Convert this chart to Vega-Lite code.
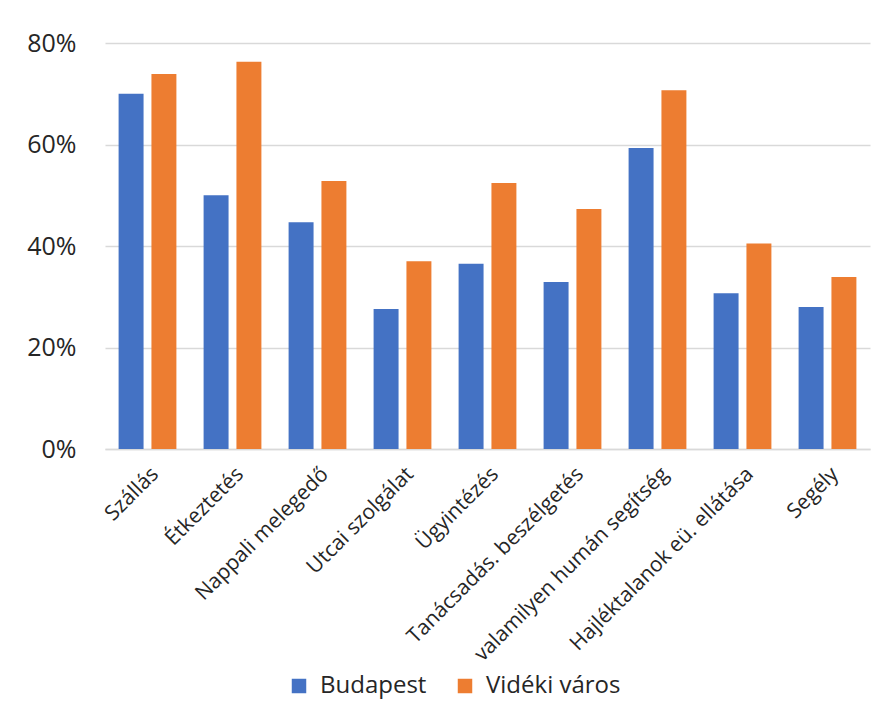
{
  "$schema": "https://vega.github.io/schema/vega-lite/v6.json",
  "autosize": {"type": "none"},
  "padding": {"left": 105, "top": 43, "right": 18, "bottom": 275},
  "width": 765,
  "height": 406,
  "background": "white",
  "config": {
    "font": "Open Sans",
    "view": {"stroke": null},
    "axis": {"labelColor": "#262626", "labelFont": "Open Sans"},
    "legend": {"labelColor": "#262626", "labelFont": "Open Sans"}
  },
  "data": {
    "values": [
      {"kategoria": "Szállás", "csoport": "Budapest", "ertek": 0.70},
      {"kategoria": "Szállás", "csoport": "Vidéki város", "ertek": 0.739},
      {"kategoria": "Étkeztetés", "csoport": "Budapest", "ertek": 0.50},
      {"kategoria": "Étkeztetés", "csoport": "Vidéki város", "ertek": 0.763},
      {"kategoria": "Nappali melegedő", "csoport": "Budapest", "ertek": 0.447},
      {"kategoria": "Nappali melegedő", "csoport": "Vidéki város", "ertek": 0.528},
      {"kategoria": "Utcai szolgálat", "csoport": "Budapest", "ertek": 0.276},
      {"kategoria": "Utcai szolgálat", "csoport": "Vidéki város", "ertek": 0.37},
      {"kategoria": "Ügyintézés", "csoport": "Budapest", "ertek": 0.365},
      {"kategoria": "Ügyintézés", "csoport": "Vidéki város", "ertek": 0.524},
      {"kategoria": "Tanácsadás. beszélgetés", "csoport": "Budapest", "ertek": 0.329},
      {"kategoria": "Tanácsadás. beszélgetés", "csoport": "Vidéki város", "ertek": 0.473},
      {"kategoria": "valamilyen humán segítség", "csoport": "Budapest", "ertek": 0.593},
      {"kategoria": "valamilyen humán segítség", "csoport": "Vidéki város", "ertek": 0.707},
      {"kategoria": "Hajléktalanok eü. ellátása", "csoport": "Budapest", "ertek": 0.307},
      {"kategoria": "Hajléktalanok eü. ellátása", "csoport": "Vidéki város", "ertek": 0.405},
      {"kategoria": "Segély", "csoport": "Budapest", "ertek": 0.28},
      {"kategoria": "Segély", "csoport": "Vidéki város", "ertek": 0.339}
    ]
  },
  "mark": {"type": "bar"},
  "encoding": {
    "x": {
      "field": "kategoria",
      "type": "nominal",
      "sort": null,
      "scale": {"paddingInner": 0.32, "paddingOuter": 0.16},
      "axis": {
        "title": null,
        "labelAngle": -45,
        "labelFontSize": 21,
        "labelPadding": 14,
        "ticks": false,
        "domainColor": "#d9d9d9",
        "domainWidth": 1.5,
        "labelLimit": 400
      }
    },
    "xOffset": {
      "field": "csoport",
      "type": "nominal",
      "sort": ["Budapest", "Vidéki város"],
      "scale": {"paddingInner": 0.24, "paddingOuter": 0}
    },
    "y": {
      "field": "ertek",
      "type": "quantitative",
      "scale": {"domain": [0, 0.8], "nice": false},
      "axis": {
        "title": null,
        "format": ".0%",
        "values": [0, 0.2, 0.4, 0.6, 0.8],
        "labelFontSize": 25,
        "labelPadding": 29,
        "ticks": false,
        "domain": false,
        "gridColor": "#d9d9d9",
        "gridWidth": 1.5
      }
    },
    "color": {
      "field": "csoport",
      "type": "nominal",
      "sort": ["Budapest", "Vidéki város"],
      "scale": {"domain": ["Budapest", "Vidéki város"], "range": ["#4472C4", "#ED7D31"]},
      "legend": {
        "title": null,
        "orient": "none",
        "direction": "horizontal",
        "legendX": 182,
        "legendY": 631,
        "symbolType": "square",
        "symbolSize": 210,
        "symbolStrokeWidth": 0,
        "labelFontSize": 24,
        "columnPadding": 26,
        "labelOffset": 9
      }
    }
  }
}
